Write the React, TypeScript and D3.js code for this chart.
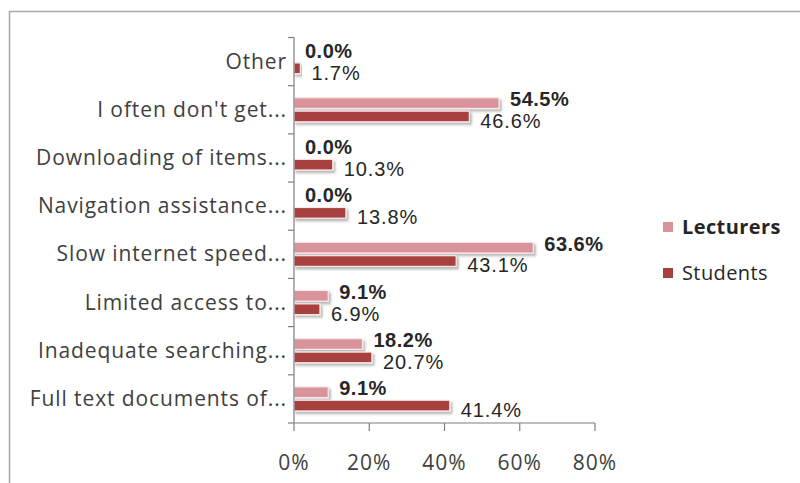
import React from "react";
import * as d3 from "d3";

const categories = [
  "Other",
  "I often don't get...",
  "Downloading of items...",
  "Navigation assistance...",
  "Slow internet speed...",
  "Limited access to...",
  "Inadequate searching...",
  "Full text documents of...",
];
const lecturers = [0.0, 54.5, 0.0, 0.0, 63.6, 9.1, 18.2, 9.1];
const students = [1.7, 46.6, 10.3, 13.8, 43.1, 6.9, 20.7, 41.4];
const xTicks = [0, 20, 40, 60, 80];
const seriesNames = ["Lecturers", "Students"];
const seriesColors = ["#d9939a", "#a8403f"];

const W = 800;
const H = 483;
const FONT = "'Open Sans', 'Liberation Sans', sans-serif";
const LABEL_FONT = "'Liberation Sans', Arial, sans-serif";

export default function App() {
  const x = d3.scaleLinear().domain([0, 80]).range([294, 595]);
  const y = d3.scaleBand<string>().domain(categories).range([37.5, 423]);
  const inner = d3
    .scaleBand<string>()
    .domain(seriesNames)
    .range([0, y.bandwidth()])
    .paddingInner(0.2)
    .paddingOuter(0.9);
  const values = [lecturers, students];

  return (
    <svg
      width={W}
      height={H}
      style={{ position: "absolute", left: 0, top: 0, background: "#fff" }}
      fontFamily={FONT}
    >
      <defs>
        <filter id="sh" x="-10%" y="-30%" width="130%" height="190%">
          <feDropShadow dx="2" dy="2.5" stdDeviation="1.2" floodColor="#000" floodOpacity="0.28" />
        </filter>
      </defs>
      <rect x={0} y={0} width={W} height={H} fill="#fff" />
      {/* outer border */}
      <path d={`M9.5,${H} V11.5 H${W}`} fill="none" stroke="#a6a6a6" strokeWidth={1.5} />

      {/* bars */}
      {categories.map((c, i) =>
        seriesNames.map((s, k) => {
          const v = values[k][i];
          const by = (y(c) as number) + (inner(s) as number);
          const bh = inner.bandwidth();
          return (
            <g key={c + s}>
              {v > 0 && (
                <rect
                  x={x(0)}
                  y={by}
                  width={x(v) - x(0)}
                  height={bh}
                  fill={seriesColors[k]}
                  stroke="#fbe9e9"
                  strokeWidth={1.2}
                  filter="url(#sh)"
                />
              )}
            </g>
          );
        })
      )}

      {/* axes */}
      <line x1={x(0)} x2={x(0)} y1={37.5} y2={423} stroke="#7f7f7f" strokeWidth={1.2} />
      {categories.map((c, i) => (
        <line key={"yt" + i} x1={x(0) - 6} x2={x(0)} y1={y(c)} y2={y(c)} stroke="#7f7f7f" strokeWidth={1.2} />
      ))}
      <line x1={x(0) - 6} x2={x(0)} y1={423} y2={423} stroke="#7f7f7f" strokeWidth={1.2} />
      <line x1={x(0)} x2={x(80)} y1={423} y2={423} stroke="#7f7f7f" strokeWidth={1.2} />
      {xTicks.map((t) => (
        <g key={"xt" + t}>
          <line x1={x(t)} x2={x(t)} y1={423} y2={431} stroke="#7f7f7f" strokeWidth={1.2} />
          <text x={x(t)} y={470} textAnchor="middle" fontSize={21} letterSpacing={1} fill="#404040">
            {t}%
          </text>
        </g>
      ))}

      {/* category labels */}
      {categories.map((c) => (
        <text
          key={"cl" + c}
          x={287}
          y={(y(c) as number) + y.bandwidth() / 2 + 7}
          textAnchor="end"
          fontSize={21}
          letterSpacing={0.9}
          fill="#404040"
        >
          {c}
        </text>
      ))}

      {/* value labels */}
      {categories.map((c, i) =>
        seriesNames.map((s, k) => {
          const v = values[k][i];
          const by = (y(c) as number) + (inner(s) as number) + inner.bandwidth() / 2;
          return (
            <text
              key={"vl" + c + s}
              x={x(v) + 11}
              y={by + (k === 0 ? 3 : 11.4)}
              fontFamily={LABEL_FONT}
              fontSize={20}
              letterSpacing={k === 0 ? 0.5 : 0.9}
              fontWeight={k === 0 ? "bold" : "normal"}
              fill="#262626"
            >
              {v.toFixed(1)}%
            </text>
          );
        })
      )}

      {/* legend */}
      {seriesNames.map((s, k) => (
        <g key={"lg" + s} transform={`translate(663, ${227 + k * 46})`}>
          <rect x={0} y={-5} width={10} height={10} fill={seriesColors[k]} />
          <text x={19} y={7} fontSize={20} letterSpacing={0.4} fontWeight={k === 0 ? "bold" : "normal"} fill="#262626">
            {s}
          </text>
        </g>
      ))}
    </svg>
  );
}
